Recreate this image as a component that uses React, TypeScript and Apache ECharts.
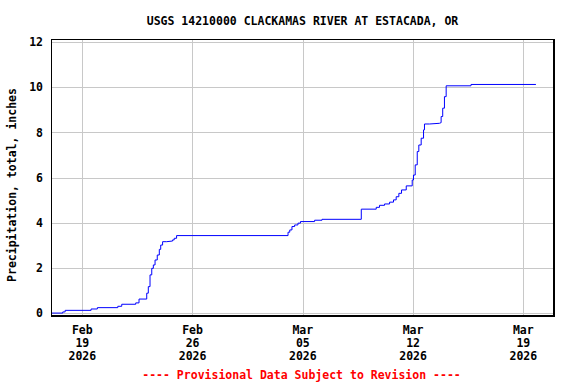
import React, { useEffect, useRef } from "react";
import * as echarts from "echarts";

// Days measured from 2026-02-19 00:00
const tickDays = [0, 7, 14, 21, 28];
const tickLabels = ["Feb\n19\n2026", "Feb\n26\n2026", "Mar\n05\n2026", "Mar\n12\n2026", "Mar\n19\n2026"];
const yTicks = [0, 2, 4, 6, 8, 10, 12];

// cumulative precipitation: [day offset, inches] (value reached at that time)
const stepDays = [
  -1.94, -1.25, -1.1, 0.55, 0.95, 2.25, 2.5, 3.39, 3.6, 4.09, 4.19, 4.3, 4.41, 4.51, 4.62, 4.76, 4.89, 4.98,
  5.1, 5.36, 5.74, 5.84, 5.99, 13.08, 13.19, 13.33, 13.5, 13.71, 13.87, 14.77, 15.24, 17.74, 18.69, 18.9,
  19.22, 19.54, 19.79, 19.96, 20.13, 20.3, 20.6, 20.98, 21.06, 21.17, 21.3, 21.4, 21.55, 21.7, 21.76, 22.08,
  22.71, 22.82, 22.92, 23.03, 23.14, 24.72, 28.85,
];
const stepValues = [
  0.01, 0.06, 0.13, 0.19, 0.25, 0.31, 0.4, 0.46, 0.63, 0.89, 1.18, 1.7, 1.99, 2.14, 2.36, 2.58, 2.83, 3.02,
  3.17, 3.2, 3.25, 3.32, 3.44, 3.59, 3.69, 3.84, 3.91, 3.99, 4.06, 4.12, 4.16, 4.61, 4.69, 4.78,
  4.84, 4.92, 5.02, 5.16, 5.31, 5.46, 5.64, 5.9, 6.12, 6.57, 7.16, 7.45, 7.75, 8.12, 8.38, 8.41,
  8.44, 8.71, 9.08, 9.59, 10.07, 10.13, 10.13,
];

const titleText = "USGS 14210000 CLACKAMAS RIVER AT ESTACADA, OR";
const yAxisTitle = "Precipitation, total, inches";
const footerText = "---- Provisional Data Subject to Revision ----";

const FONT = "'DejaVu Sans Mono', 'Liberation Mono', monospace";

export default function App() {
  const ref = useRef<HTMLDivElement>(null);
  useEffect(() => {
    document.body.style.margin = "0";
    const chart = echarts.init(ref.current!, null, { renderer: "svg" });
    const txt = { fontFamily: FONT, fontWeight: "bold" as const, fontSize: 11.5, color: "#000" };
    const data = stepDays.map((d, i) => [d, stepValues[i]]);
    chart.setOption({
      animation: false,
      backgroundColor: "#fff",
      grid: [
        { left: 51, right: 22, top: 39.5, bottom: 68 },
        { left: 82.3, right: 52.7, top: 39.5, bottom: 68 },
        { left: 51, right: 22, top: 42.3, bottom: 70.7 },
      ],
      xAxis: [
        { gridIndex: 0, type: "value", min: -2, max: 30, show: false },
        {
          gridIndex: 1,
          type: "value",
          min: 0,
          max: 28,
          interval: 7,
          axisLine: { show: false },
          axisTick: { show: false },
          splitLine: { show: true, lineStyle: { color: "#c8c8c8", width: 1 } },
          axisLabel: {
            ...txt,
            margin: 7.5,
            lineHeight: 13,
            formatter: (v: number) => {
              const i = tickDays.indexOf(v);
              return i >= 0 ? tickLabels[i] : "";
            },
          },
        },
        { gridIndex: 2, type: "value", min: 0, max: 1, show: false },
      ],
      yAxis: [
        { gridIndex: 0, type: "value", min: -0.12, max: 12.12, show: false },
        { gridIndex: 1, type: "value", min: 0, max: 1, show: false },
        {
          gridIndex: 2,
          type: "value",
          min: yTicks[0],
          max: yTicks[yTicks.length - 1],
          interval: 2,
          axisLine: { show: false },
          axisTick: { show: false },
          splitLine: { show: true, lineStyle: { color: "#c8c8c8", width: 1 } },
          axisLabel: { ...txt, margin: 8 },
        },
      ],
      series: [
        {
          type: "line",
          xAxisIndex: 0,
          yAxisIndex: 0,
          data,
          step: "end",
          showSymbol: false,
          symbol: "none",
          lineStyle: { color: "#0000ff", width: 1 },
          z: 5,
        },
      ],
      graphic: [
        { type: "line", z: 100, shape: { x1: 51.5, y1: 39, x2: 51.5, y2: 317 }, style: { stroke: "#000", lineWidth: 1 } },
        { type: "line", z: 100, shape: { x1: 51, y1: 39.5, x2: 555, y2: 39.5 }, style: { stroke: "#000", lineWidth: 1 } },
        { type: "line", z: 100, shape: { x1: 554, y1: 39, x2: 554, y2: 317 }, style: { stroke: "#000", lineWidth: 2 } },
        { type: "line", z: 100, shape: { x1: 51, y1: 316, x2: 555, y2: 316 }, style: { stroke: "#000", lineWidth: 2 } },
        {
          type: "text",
          x: 302.5,
          y: 21,
          style: { text: titleText, font: `bold 11.5px ${FONT}`, fill: "#000", textAlign: "center", textVerticalAlign: "middle" },
        },
        {
          type: "text",
          x: 12,
          y: 185,
          rotation: Math.PI / 2,
          style: { text: yAxisTitle, font: `bold 11.5px ${FONT}`, fill: "#000", textAlign: "center", textVerticalAlign: "middle" },
        },
        {
          type: "text",
          x: 301.5,
          y: 375,
          style: { text: footerText, font: `bold 11.5px ${FONT}`, fill: "#ff0000", textAlign: "center", textVerticalAlign: "middle" },
        },
      ],
    });
    return () => chart.dispose();
  }, []);
  return <div ref={ref} style={{ width: 576, height: 384 }} />;
}
